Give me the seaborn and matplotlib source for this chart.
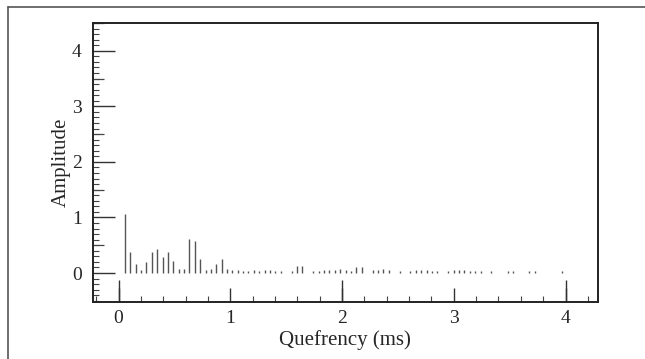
import matplotlib
matplotlib.use("Agg")
import matplotlib.pyplot as plt
from matplotlib.lines import Line2D
from matplotlib.ticker import MultipleLocator
import seaborn as sns

# Quefrency (ms) of each cepstral sample
quefrency = [
    0.056, 0.105, 0.152, 0.200, 0.248, 0.298, 0.346, 0.394, 0.445, 0.490,
    0.537, 0.584, 0.633, 0.683, 0.731, 0.778, 0.826, 0.874, 0.922, 0.970,
    1.017, 1.065, 1.113, 1.162, 1.210, 1.258, 1.307, 1.355, 1.403, 1.452,
    1.500, 1.548, 1.597, 1.645, 1.693, 1.742, 1.790, 1.838, 1.887, 1.935,
    1.983, 2.032, 2.080, 2.128, 2.177, 2.225, 2.273, 2.322, 2.370, 2.418,
    2.467, 2.515, 2.563, 2.612, 2.660, 2.708, 2.757, 2.805, 2.853, 2.902,
    2.950, 2.998, 3.047, 3.095, 3.143, 3.192, 3.240, 3.288, 3.337, 3.385,
    3.433, 3.482, 3.530, 3.578, 3.627, 3.675, 3.723, 3.772, 3.820, 3.868,
    3.917, 3.965,
]
amplitude = [
    1.06, 0.37, 0.16, 0.05, 0.20, 0.38, 0.44, 0.29, 0.38, 0.22,
    0.08, 0.07, 0.61, 0.58, 0.25, 0.05, 0.07, 0.17, 0.25, 0.08,
    0.05, 0.05, 0.04, 0.04, 0.05, 0.03, 0.06, 0.05, 0.04, 0.03,
    0.00, 0.03, 0.12, 0.12, 0.00, 0.04, 0.03, 0.05, 0.05, 0.06,
    0.07, 0.05, 0.04, 0.10, 0.10, 0.00, 0.05, 0.06, 0.08, 0.05,
    0.00, 0.03, 0.00, 0.04, 0.05, 0.06, 0.05, 0.04, 0.03, 0.00,
    0.04, 0.05, 0.06, 0.05, 0.04, 0.03, 0.03, 0.00, 0.03, 0.00,
    0.00, 0.03, 0.03, 0.00, 0.00, 0.03, 0.04, 0.00, 0.00, 0.00,
    0.00, 0.03,
]

x_ticks = [0, 1, 2, 3, 4]
x_long_ticks = [0, 2, 4]
y_ticks = [0, 1, 2, 3, 4]
y_half_ticks = [0.5, 1.5, 2.5, 3.5, 4.5]

sns.set_theme(style="ticks")
plt.rcParams["font.family"] = ["Liberation Serif", "DejaVu Serif"]

fig = plt.figure(figsize=(6.45, 3.59), dpi=100)
ax = fig.add_axes([0.144, 0.159, 0.783, 0.777])

ax.vlines(quefrency, 0, amplitude, color="#555555", linewidth=1.0)

ax.set_xlim(-0.23, 4.29)
ax.set_ylim(-0.52, 4.5)
ax.set_xticks(x_ticks)
ax.set_yticks(y_ticks)
ax.xaxis.set_minor_locator(MultipleLocator(0.2))
ax.yaxis.set_minor_locator(MultipleLocator(0.1))
ax.tick_params(which="major", direction="in", width=1.0, color="#333333",
               labelsize=14, pad=6)
ax.tick_params(axis="x", which="major", length=10)
ax.tick_params(axis="y", which="major", length=16, pad=8)
ax.tick_params(which="minor", direction="in", length=4, width=0.8, color="#444444")
for s in ax.spines.values():
    s.set_linewidth(1.4)
    s.set_color("#222222")

# longer ticks at even quefrencies, medium ticks at half amplitudes
secx = ax.secondary_xaxis("bottom")
secx.set_xticks(x_long_ticks)
secx.tick_params(direction="in", length=16, width=1.0, color="#333333", labelbottom=False)
secx.spines["bottom"].set_visible(False)
secy = ax.secondary_yaxis("left")
secy.set_yticks(y_half_ticks)
secy.tick_params(direction="in", length=8, width=0.9, color="#444444", labelleft=False)
secy.spines["left"].set_visible(False)

ax.set_xlabel("Quefrency (ms)", fontsize=15, labelpad=2)
ax.set_ylabel("Amplitude", fontsize=15, labelpad=1)

# outer page frame (top and left edges)
fig.add_artist(Line2D([0.012, 1.0], [0.980, 0.980], color="#555555", linewidth=1.2,
                      transform=fig.transFigure))
fig.add_artist(Line2D([0.012, 0.012], [0.0, 0.980], color="#555555", linewidth=1.2,
                      transform=fig.transFigure))

fig.savefig("out.png", dpi=100)
